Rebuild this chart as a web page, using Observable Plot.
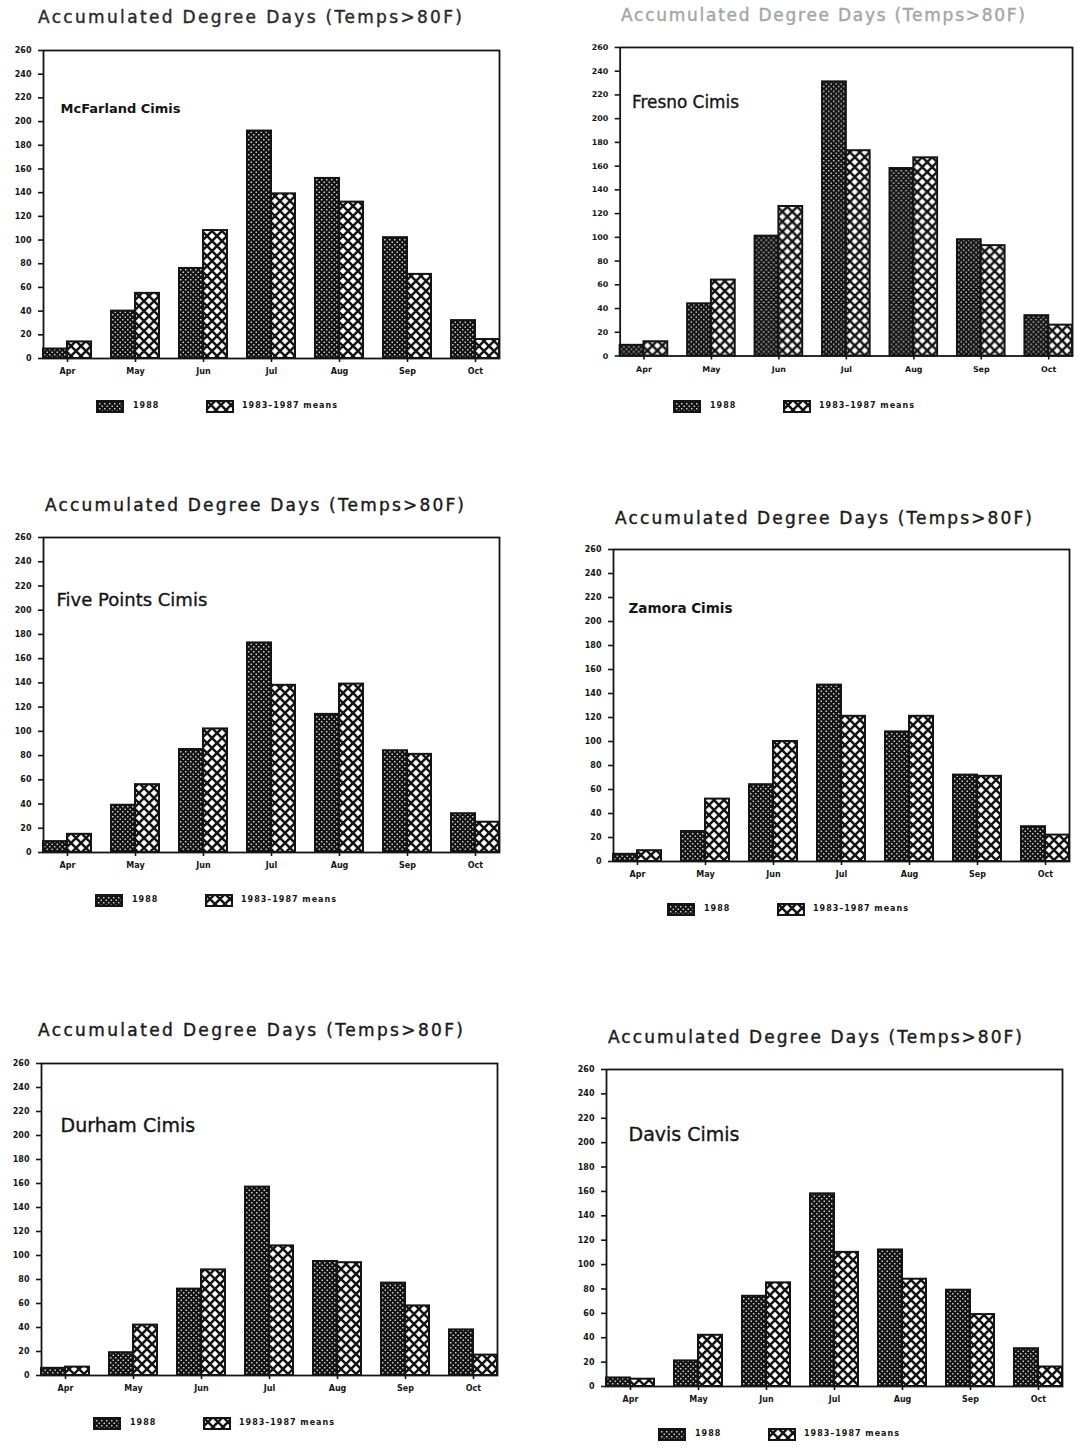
<!DOCTYPE html>
<html>
<head>
<meta charset="utf-8">
<script src="https://cdn.jsdelivr.net/npm/d3@7"></script>
<script src="https://cdn.jsdelivr.net/npm/@observablehq/plot@0.6"></script>
<style>
  html, body { margin: 0; padding: 0; background: #fff; }
  #page { position: relative; width: 1078px; height: 1447px; overflow: hidden; background: #fff; font-family: "DejaVu Sans", sans-serif; color: #151515; }
  .title { position: absolute; white-space: nowrap; font-family: "DejaVu Sans", sans-serif; font-size: 17px; line-height: 20px; -webkit-text-stroke: 0.4px currentColor; }
  .panel { position: absolute; }
  .leg { position: absolute; white-space: nowrap; font-family: "DejaVu Sans", sans-serif; font-weight: bold; font-size: 8px; letter-spacing: 1px; line-height: 12px; color: #151515; }
  .sw { position: absolute; }
</style>
</head>
<body>
<div id="page"></div>
<script>
// ---------------- data ----------------
const months = ["Apr", "May", "Jun", "Jul", "Aug", "Sep", "Oct"];
const stationNames = ["McFarland Cimis", "Fresno Cimis", "Five Points Cimis", "Zamora Cimis", "Durham Cimis", "Davis Cimis"];
const titleText = "Accumulated Degree Days (Temps>80F)";
const legendLabels = ["1988", "1983\u20131987 means"];
const yTickValues = [0, 20, 40, 60, 80, 100, 120, 140, 160, 180, 200, 220, 240, 260];

const mcfarland1988   = [8, 40, 76, 192, 152, 102, 32];
const mcfarlandMeans  = [14, 55, 108, 139, 132, 71, 16];
const fresno1988      = [9, 44, 101, 231, 158, 98, 34];
const fresnoMeans     = [12, 64, 126, 173, 167, 93, 26];
const fivePoints1988  = [9, 39, 85, 173, 114, 84, 32];
const fivePointsMeans = [15, 56, 102, 138, 139, 81, 25];
const zamora1988      = [6, 25, 64, 147, 108, 72, 29];
const zamoraMeans     = [9, 52, 100, 121, 121, 71, 22];
const durham1988      = [6, 19, 72, 157, 95, 77, 38];
const durhamMeans     = [7, 42, 88, 108, 94, 58, 17];
const davis1988       = [7, 21, 74, 158, 112, 79, 31];
const davisMeans      = [6, 42, 85, 110, 88, 59, 16];

const series1988  = [mcfarland1988, fresno1988, fivePoints1988, zamora1988, durham1988, davis1988];
const seriesMeans = [mcfarlandMeans, fresnoMeans, fivePointsMeans, zamoraMeans, durhamMeans, davisMeans];

// ---------------- layout (page pixels) ----------------
const layout = [
  {L: 41,  T: 50,   R: 502,  B: 358,  title: {x0: 38,  x1: 462,  y: 17,   color: "#2a2a2a"}, label: {dx: 17, dy: 58, size: 13,   weight: "bold"}},
  {L: 618, T: 47,   R: 1078, B: 358,  title: {x0: 621, x1: 1025, y: 15,   color: "#a5a5a5"}, label: {dx: 12, dy: 56, size: 17,   weight: "normal"}},
  {L: 40,  T: 537,  R: 502,  B: 852,  title: {x0: 45,  x1: 464,  y: 505,  color: "#1a1a1a"}, label: {dx: 13, dy: 63, size: 18,   weight: "normal"}},
  {L: 612, T: 549,  R: 1071, B: 861,  title: {x0: 615, x1: 1032, y: 518,  color: "#1a1a1a"}, label: {dx: 15, dy: 59, size: 13.5, weight: "bold"}},
  {L: 38,  T: 1063, R: 500,  B: 1375, title: {x0: 38,  x1: 463,  y: 1030, color: "#1a1a1a"}, label: {dx: 19, dy: 62, size: 19,   weight: "normal"}},
  {L: 603, T: 1069, R: 1065, B: 1386, title: {x0: 608, x1: 1022, y: 1037, color: "#1a1a1a"}, label: {dx: 22, dy: 65, size: 19,   weight: "normal"}}
];

const INK = "#141414";
const page = document.getElementById("page");
const measureCtx = document.createElement("canvas").getContext("2d");

function addPatterns(svg, idx) {
  const defs = d3.select(svg).insert("defs", ":first-child");
  const p1 = defs.append("pattern").attr("id", `p88-${idx}`).attr("patternUnits", "userSpaceOnUse")
    .attr("width", 5).attr("height", 5);
  p1.append("rect").attr("width", 5).attr("height", 5).attr("fill", INK);
  p1.append("rect").attr("x", 0.6).attr("y", 0.6).attr("width", 1.3).attr("height", 1.3).attr("fill", "#fff");
  p1.append("rect").attr("x", 3.1).attr("y", 3.1).attr("width", 1.3).attr("height", 1.3).attr("fill", "#fff");
  const p2 = defs.append("pattern").attr("id", `pm-${idx}`).attr("patternUnits", "userSpaceOnUse")
    .attr("width", 10).attr("height", 10);
  p2.append("rect").attr("width", 10).attr("height", 10).attr("fill", "#fff");
  p2.append("path").attr("d", "M0,0L10,10M10,0L0,10").attr("stroke", INK).attr("stroke-width", 2.5).attr("fill", "none");
}

function addTitle(t) {
  const el = document.createElement("div");
  el.className = "title";
  el.textContent = titleText;
  measureCtx.font = `17px "DejaVu Sans"`;
  const w = measureCtx.measureText(titleText).width;
  const spacing = ((t.x1 - t.x0) - w) / (titleText.length - 1);
  el.style.letterSpacing = `${spacing}px`;
  el.style.left = `${t.x0}px`;
  el.style.top = `${t.y - 10}px`;
  el.style.color = t.color;
  page.appendChild(el);
}

function addLegend(cfg, idx) {
  const x = cfg.L + 56, y = cfg.B + 48;
  const items = [
    {sx: x, tx: x + 36, fill: `url(#p88-${idx})`, text: legendLabels[0]},
    {sx: x + 110, tx: x + 145, fill: `url(#pm-${idx})`, text: legendLabels[1]}
  ];
  for (const it of items) {
    const sw = d3.create("svg").attr("class", "sw").attr("width", 28).attr("height", 13)
      .style("left", `${it.sx - 1}px`).style("top", `${y - 6.5}px`);
    sw.append("rect").attr("x", 1).attr("y", 1).attr("width", 26).attr("height", 11)
      .attr("fill", it.fill).attr("stroke", INK).attr("stroke-width", 2);
    page.appendChild(sw.node());
    const tx = document.createElement("div");
    tx.className = "leg";
    tx.textContent = it.text;
    tx.style.left = `${it.tx}px`;
    tx.style.top = `${y - 6}px`;
    page.appendChild(tx);
  }
}

function drawPanel(i) {
  const cfg = layout[i];
  const rows = months.flatMap((m, k) => [
    {month: m, series: "1988", value: series1988[i][k]},
    {month: m, series: "means", value: seriesMeans[i][k]}
  ]);
  const mL = 42, mR = 4, mT = 4, mB = 28;
  const W = cfg.R - cfg.L, H = cfg.B - cfg.T;
  const plot = Plot.plot({
    width: W + mL + mR,
    height: H + mT + mB,
    marginLeft: mL, marginRight: mR, marginTop: mT, marginBottom: mB,
    style: {background: "transparent", fontFamily: "DejaVu Sans", fontSize: "8px", fontWeight: "bold", color: INK, overflow: "visible"},
    fx: {domain: months, paddingInner: 0.29, paddingOuter: 0, label: null},
    x: {domain: ["1988", "means"], padding: 0, axis: null},
    y: {domain: [0, 260], label: null},
    marks: [
      Plot.barY(rows.filter(d => d.series === "1988"), {fx: "month", x: "series", y: "value", inset: 0,
        fill: `url(#p88-${i})`, stroke: INK, strokeWidth: 2}),
      Plot.barY(rows.filter(d => d.series === "means"), {fx: "month", x: "series", y: "value", inset: 0,
        fill: `url(#pm-${i})`, stroke: INK, strokeWidth: 2}),
      Plot.frame({facet: "super", stroke: INK, strokeWidth: 1.8}),
      Plot.axisY({ticks: yTickValues, tickSize: 5, tickPadding: 7, tickFormat: d => `${d}`, label: null, strokeWidth: 1.6}),
      Plot.axisFx({anchor: "bottom", tickSize: 4, tickPadding: 6, label: null, strokeWidth: 1.6}),
      Plot.text([stationNames[i]], {facet: "super", frameAnchor: "top-left", text: d => d,
        dx: cfg.label.dx, dy: cfg.label.dy, lineAnchor: "middle", textAnchor: "start",
        fontSize: cfg.label.size, fontWeight: cfg.label.weight, fill: INK,
        stroke: INK, strokeWidth: cfg.label.weight === "bold" ? 0 : 0.35})
    ]
  });
  addPatterns(plot, i);
  const wrap = document.createElement("div");
  wrap.className = "panel";
  wrap.style.left = `${cfg.L - mL}px`;
  wrap.style.top = `${cfg.T - mT}px`;
  wrap.appendChild(plot);
  page.appendChild(wrap);
  addTitle(cfg.title);
  addLegend(cfg, i);
}

for (let i = 0; i < layout.length; i++) drawPanel(i);
</script>
</body>
</html>
